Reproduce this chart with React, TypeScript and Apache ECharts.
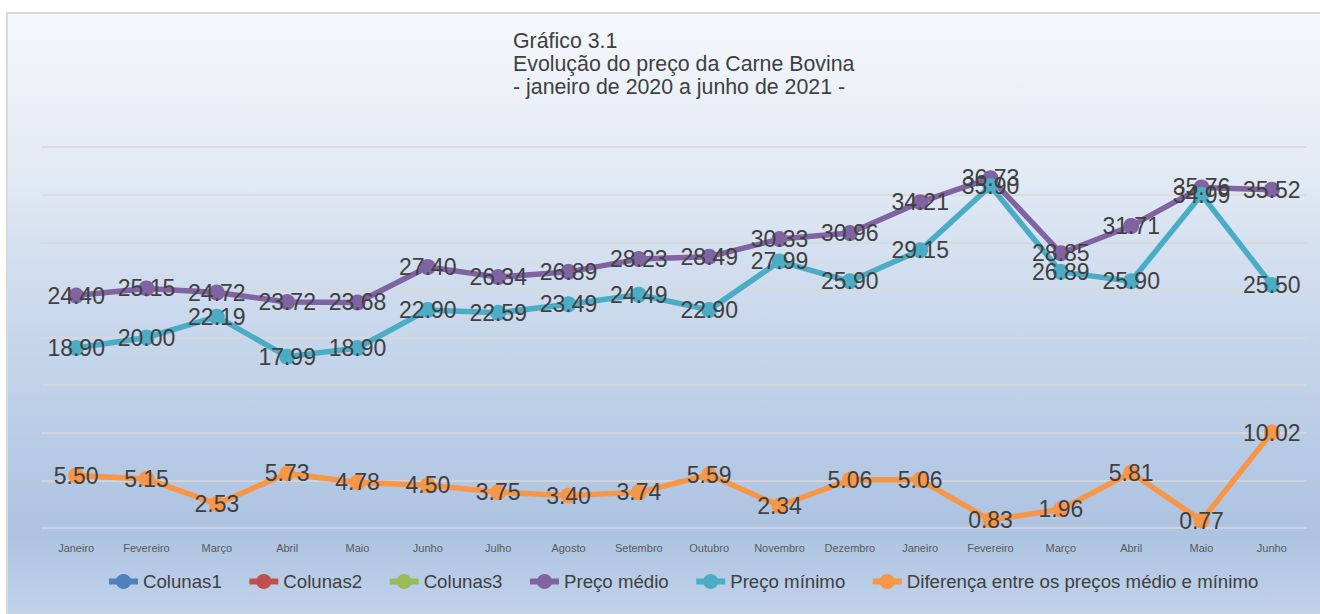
import React, { useEffect, useRef } from "react";
import * as echarts from "echarts";

const categories = [
  "Janeiro", "Fevereiro", "Março", "Abril", "Maio", "Junho", "Julho", "Agosto", "Setembro",
  "Outubro", "Novembro", "Dezembro", "Janeiro", "Fevereiro", "Março", "Abril", "Maio", "Junho",
];
const precoMedio = [24.40, 25.15, 24.72, 23.72, 23.68, 27.40, 26.34, 26.89, 28.23, 28.49, 30.33, 30.96, 34.21, 36.73, 28.85, 31.71, 35.76, 35.52];
const precoMinimo = [18.90, 20.00, 22.19, 17.99, 18.90, 22.90, 22.59, 23.49, 24.49, 22.90, 27.99, 25.90, 29.15, 35.90, 26.89, 25.90, 34.99, 25.50];
const diferenca = [5.50, 5.15, 2.53, 5.73, 4.78, 4.50, 3.75, 3.40, 3.74, 5.59, 2.34, 5.06, 5.06, 0.83, 1.96, 5.81, 0.77, 10.02];
const titleLines = ["Gráfico 3.1", "Evolução do preço da Carne Bovina", "- janeiro de 2020 a junho de 2021 -"];

const FONT = "'Liberation Sans', Arial, sans-serif";

export default function App() {
  const ref = useRef<HTMLDivElement>(null);
  useEffect(() => {
    document.body.style.margin = "0";
    const chart = echarts.init(ref.current!, null, { renderer: "svg" });
    const label = {
      show: true,
      position: "inside" as const,
      color: "#404040",
      fontSize: 23,
      fontFamily: FONT,
      formatter: (p: any) => Number(p.value).toFixed(2),
    };
    const lineSeries = (name: string, color: string, data: number[]) => ({
      name,
      type: "line" as const,
      data,
      symbol: "circle",
      symbolSize: 16,
      itemStyle: { color },
      lineStyle: { color, width: 5.5 },
      label,
      z: 2,
    });
    const emptySeries = (name: string, color: string) => ({
      name,
      type: "line" as const,
      data: [],
      symbol: "circle",
      symbolSize: 16,
      itemStyle: { color },
      lineStyle: { color, width: 5.5 },
    });
    chart.setOption({
      animation: false,
      backgroundColor: "transparent",
      textStyle: { fontFamily: FONT },
      title: {
        text: titleLines.join("\n"),
        left: 513,
        top: 29,
        padding: 0,
        textStyle: {
          fontSize: 21.33,
          lineHeight: 23,
          fontWeight: "normal",
          color: "#404040",
          fontFamily: FONT,
        },
      },
      legend: {
        left: 106,
        top: 572,
        padding: 0,
        itemWidth: 29,
        itemHeight: 19,
        itemGap: 24.5,
        lineStyle: { width: 6 },
        textStyle: { fontSize: 18.67, color: "#404040", fontFamily: FONT },
        data: ["Colunas1", "Colunas2", "Colunas3", "Preço médio", "Preço mínimo", "Diferença entre os preços médio e mínimo"],
      },
      grid: { left: 41, right: 13, top: 147, bottom: 86, containLabel: false },
      xAxis: {
        type: "category",
        data: categories,
        boundaryGap: true,
        axisLine: { show: false },
        axisTick: { show: false },
        axisLabel: { fontSize: 11, color: "#595959", margin: 14, interval: 0, fontFamily: FONT },
        splitLine: { show: false },
      },
      yAxis: {
        type: "value",
        min: 0,
        max: 40,
        interval: 5,
        axisLine: { show: false },
        axisTick: { show: false },
        axisLabel: { show: false },
        splitLine: { lineStyle: { color: "#d9d9d9", width: 1.5 } },
      },
      series: [
        emptySeries("Colunas1", "#4f81bd"),
        emptySeries("Colunas2", "#c0504d"),
        emptySeries("Colunas3", "#9bbb59"),
        lineSeries("Preço médio", "#8064a2", precoMedio),
        lineSeries("Preço mínimo", "#4bacc6", precoMinimo),
        lineSeries("Diferença entre os preços médio e mínimo", "#f79646", diferenca),
      ],
    });
    return () => chart.dispose();
  }, []);
  return (
    <div style={{ position: "relative", width: 1320, height: 614, overflow: "hidden", background: "#ffffff" }}>
      <div
        style={{
          position: "absolute",
          left: 6,
          top: 12,
          width: 1330,
          height: 620,
          boxSizing: "border-box",
          border: "2px solid #d9d9d9",
          background:
            "linear-gradient(to bottom, #f5f8fc 0%, #e3eaf4 25%, #c9d8ec 50%, #adc3e1 84%, #b9cce6 92%, #c6d6ec 100%)",
        }}
      />
      <div ref={ref} style={{ position: "absolute", left: 0, top: 0, width: 1320, height: 614 }} />
    </div>
  );
}
